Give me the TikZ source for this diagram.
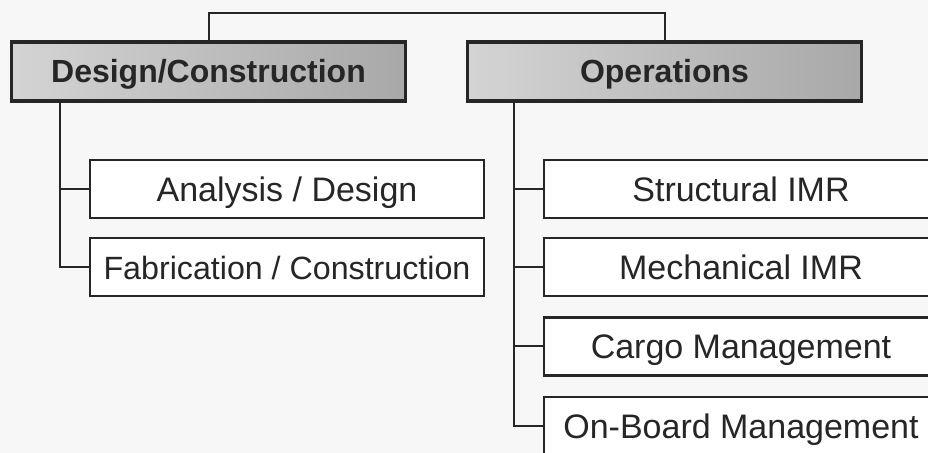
\documentclass[tikz,border=0pt]{standalone}
\usepackage{fontspec}
\setmainfont{Liberation Sans}
\usetikzlibrary{positioning}
\usetikzlibrary{calc}
\tikzstyle{headbox}=[rectangle,draw=black!85,line width=1.6pt,left color=black!17,right color=black!34,minimum width=197pt,minimum height=29.5pt,inner sep=0pt,text height=11.5pt,text depth=-1pt,font=\fontsize{16}{19}\selectfont\bfseries,text=black!85]
\tikzstyle{subbox}=[rectangle,draw=black!85,line width=1.2pt,fill=white,minimum width=197pt,minimum height=29pt,inner sep=0pt,text height=12.2pt,text depth=0pt,text=black!85]
\tikzstyle{link} = [draw,line width=1pt,black!85]
\begin{document}
\begin{tikzpicture}[x=0.5pt,y=-0.5pt]

  \useasboundingbox (0,0) rectangle (928,453);
  \clip (0,0) rectangle (928,453);
  \fill[black!3] (0,0) rectangle (928,453);

  % the two top boxes
  \node[headbox] (dc) at (208.5, 71.5) {Design/Construction};
  \node[headbox] (ops) at (664.5, 71.5) {Operations};

  \coordinate (top) at (0, 13);
  \draw[link] (dc.north) -- (dc.north |- top) -- (ops.north |- top) -- (ops.north);

  % left branch
  \foreach \y/\name/\size/\label in {189/ana/17/{Analysis / Design}, 267/fab/16.1/{Fabrication / Construction}}
     \node[subbox,font=\fontsize{\size}{20}\selectfont] (\name) at (287, \y) {\label};

  \coordinate (lt) at (60, 0);
  \draw[link] (dc.south -| lt) |- (fab.west);
  \draw[link] (lt |- ana.west) -- (ana.west);

  % right branch
  \foreach \y/\name/\label in {189/str/Structural IMR, 267/mec/Mechanical IMR, 346.5/car/Cargo Management, 426/onb/On-Board Management}
     \node[subbox,font=\fontsize{17}{20}\selectfont] (\name) at (741, \y) {\label};

  \coordinate (rt) at (514, 0);
  \draw[link] (ops.south -| rt) |- (onb.west);
  \foreach \dest in {str, mec, car}
     \draw[link] (rt |- \dest.west) -- (\dest.west);

\end{tikzpicture}
\end{document}
